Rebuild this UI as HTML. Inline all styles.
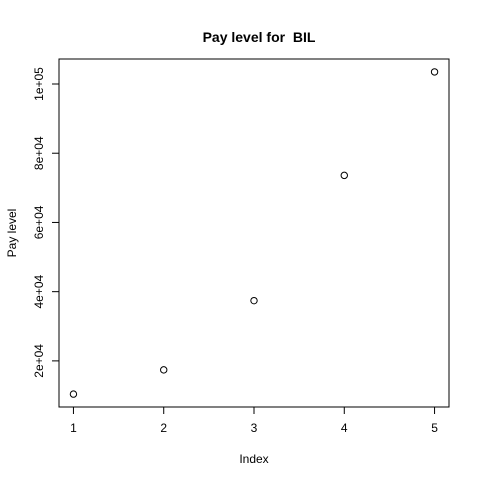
<!DOCTYPE html>
<html><head><meta charset="utf-8"><style>
body{margin:0;background:#fff}
svg{display:block;font-family:"Liberation Sans",Arial,sans-serif}
</style></head><body>
<svg id="chart" width="480" height="480">
<text x="259" y="42" font-size="14" font-weight="bold" text-anchor="middle" style="white-space:pre">Pay level for &#160;BIL</text>
<text x="254" y="463" font-size="12" text-anchor="middle">Index</text>
<text transform="translate(16,233) rotate(-90)" font-size="12" text-anchor="middle">Pay level</text>
<rect x="59" y="59" width="390" height="348" fill="none" stroke="#000"/>
<g id="xaxis"></g>
<g id="yaxis"></g>
<g id="points"></g>
</svg>
<script>
const indices=[1,2,3,4,5];
const payLevels=[10400,17400,37400,73600,103500];
const xTicks=[1,2,3,4,5];
const yTicks=[20000,40000,60000,80000,100000];
const yTickLabels=["2e+04","4e+04","6e+04","8e+04","1e+05"];
const L=59,R=449,T=59,B=407,NS="http://www.w3.org/2000/svg";
function rng(a){const mn=Math.min(...a),mx=Math.max(...a),p=(mx-mn)*0.04;return[mn-p,mx+p];}
const [x0,x1]=rng(indices),[y0,y1]=rng(payLevels);
const sx=v=>L+(v-x0)/(x1-x0)*(R-L);
const sy=v=>B-(v-y0)/(y1-y0)*(B-T);
function mk(t,a,p){const e=document.createElementNS(NS,t);for(const k in a)e.setAttribute(k,a[k]);p.appendChild(e);return e;}
const xa=document.getElementById('xaxis'),ya=document.getElementById('yaxis'),pg=document.getElementById('points');
mk('line',{x1:sx(xTicks[0]),x2:sx(xTicks[xTicks.length-1]),y1:B,y2:B,stroke:'#000'},xa);
xTicks.forEach(v=>{const x=sx(v);
mk('line',{x1:x,x2:x,y1:B,y2:B+7,stroke:'#000'},xa);
const t=mk('text',{x:x,y:B+25,'font-size':12,'text-anchor':'middle'},xa);t.textContent=v;

});
mk('line',{x1:L,x2:L,y1:sy(yTicks[0]),y2:sy(yTicks[yTicks.length-1]),stroke:'#000'},ya);
yTicks.forEach((v,i)=>{const y=sy(v);
mk('line',{x1:L-7,x2:L,y1:y,y2:y,stroke:'#000'},ya);
const t=mk('text',{transform:`translate(${L-16},${y}) rotate(-90)`,'font-size':12,'text-anchor':'middle'},ya);t.textContent=yTickLabels[i];

});
indices.forEach((v,i)=>{const c=mk('circle',{cx:sx(v),cy:sy(payLevels[i]),r:3.2,fill:'none',stroke:'#000'},pg);

});
</script>
</body></html>
